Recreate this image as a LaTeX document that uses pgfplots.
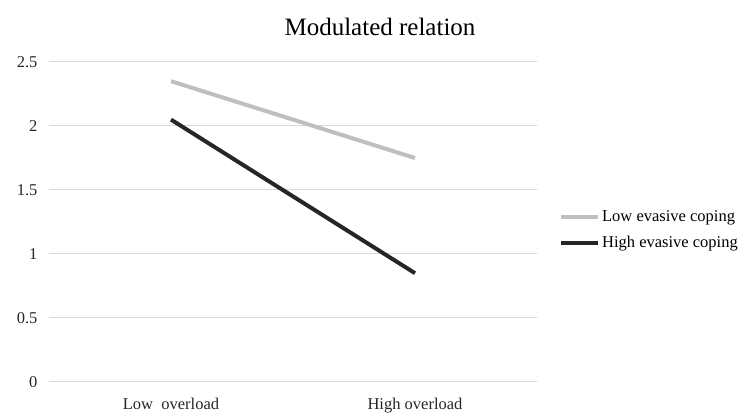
\documentclass[border=0pt]{standalone}
\usepackage{pgfplots}
\pgfplotsset{compat=1.18}
\usepackage{fontspec}
\setmainfont{Liberation Serif}
\definecolor{lowc}{RGB}{191,191,191}
\definecolor{highc}{RGB}{38,38,38}
\definecolor{gridc}{RGB}{217,217,217}
\begin{document}
\begin{tikzpicture}
  \useasboundingbox (0,0) rectangle (750pt,420pt);
  \begin{axis}[
      at={(49pt,38pt)}, anchor=south west,
      scale only axis, width=488pt, height=320pt,
      xmin=-0.5, xmax=1.5, ymin=0, ymax=2.5,
      xtick={0,1}, xticklabels={Low~~overload, High overload},
      ytick={0,0.5,...,2.5},
      yticklabels={0,0.5,1,1.5,2,2.5},
      /pgf/number format/assume math mode=true,
      axis line style={draw=none},
      tick style={draw=none},
      ymajorgrids, grid style={gridc, line width=1pt},
      ticklabel style={font=\fontsize{16.5}{18}\selectfont, text=black!85},
      xticklabel style={yshift=-13pt},
      yticklabel style={xshift=-8pt},
      legend style={at={(1.045,0.475)}, anchor=west, draw=none, fill=none,
        font=\fontsize{16.5}{18}\selectfont, row sep=9pt,
        legend cell align=left, inner sep=0pt},
      legend image code/.code={\draw[#1] (0pt,0pt) -- (37pt,0pt);},
    ]
    \addplot[lowc, line width=4pt] coordinates {(0,2.35) (1,1.75)};
    \addplot[highc, line width=4pt] coordinates {(0,2.05) (1,0.85)};
    \legend{Low evasive coping, High evasive coping}
  \end{axis}
  \node[font=\fontsize{25}{28}\selectfont] at (380pt,393pt) {Modulated relation};
\end{tikzpicture}
\end{document}
